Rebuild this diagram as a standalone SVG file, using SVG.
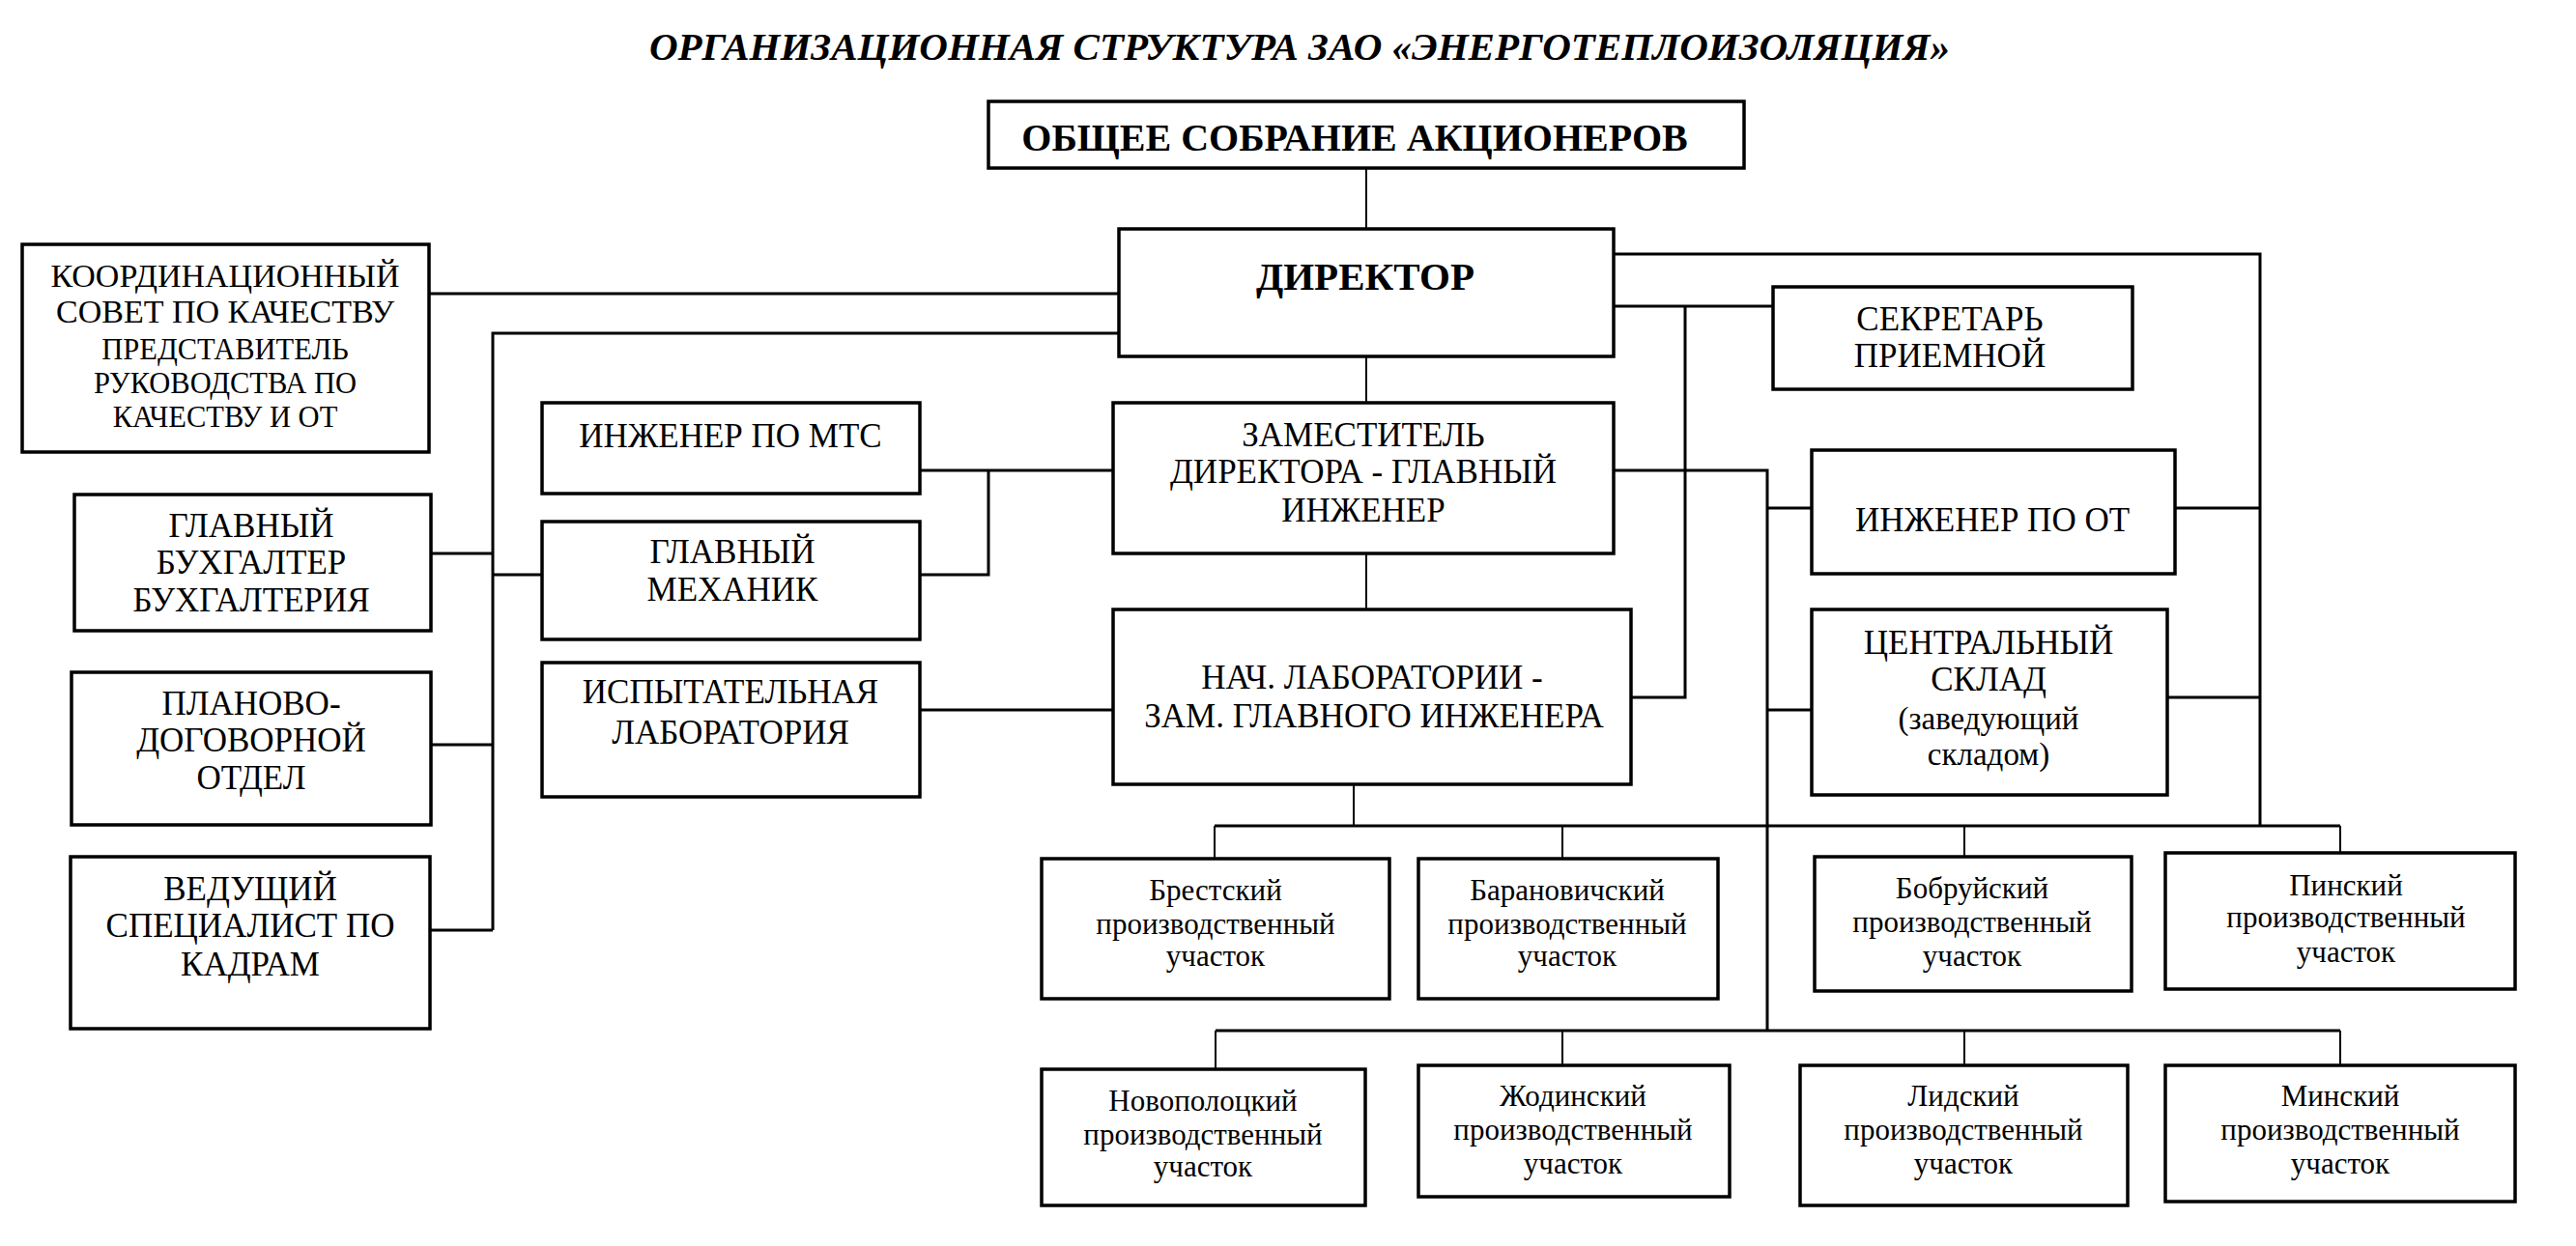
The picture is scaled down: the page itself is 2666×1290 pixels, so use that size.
<svg xmlns="http://www.w3.org/2000/svg" width="2666" height="1290" viewBox="0 0 2666 1290">
<style>
.b{fill:#fff;stroke:#000;stroke-width:3.5}
.c{fill:none;stroke:#000;stroke-width:3}
.t{fill:none;stroke:#000;stroke-width:2}
text{font-family:"Liberation Serif","Times New Roman",serif;fill:#000;text-anchor:middle}
.u{font-size:35px}
.k{font-size:34px}
.s{font-size:30.5px}
.l{font-size:31px}
.h{font-size:40px;font-weight:bold}
</style>
<rect width="2666" height="1290" fill="#fff"/>
<text x="1345" y="62" style="font-size:41px;font-weight:bold;font-style:italic">ОРГАНИЗАЦИОННАЯ СТРУКТУРА ЗАО «ЭНЕРГОТЕПЛОИЗОЛЯЦИЯ»</text>
<g id="connectors">
<path class="t" d="M1414 174V237M1414 369V417M1414 573V631"/>
<path class="c" d="M444 304H1158M1158 345H510V963M446 573H510M446 771H510M446 963H510M510 595H561"/>
<path class="c" d="M952 487H1152M1023 487V595H952M952 735H1152"/>
<path class="c" d="M1670 263H2339V855M1670 317H1835M1744 317V722H1688"/>
<path class="c" d="M1670 487H1829V1067M1829 526H1875M1829 735H1875M2251 526H2339M2243 722H2339"/>
<path class="t" d="M1401 812V855"/>
<path class="c" d="M1257 855H2422M1258 1067H2422"/>
<path class="t" d="M1257 855V889M1617 855V889M2033 855V887M2422 855V883M1258 1067V1107M1617 1067V1103M2033 1067V1103M2422 1067V1103"/>
</g>
<g id="n-sobranie"><rect class="b" x="1023" y="105" width="782" height="69"/><text class="h" x="1402" y="156">ОБЩЕЕ СОБРАНИЕ АКЦИОНЕРОВ</text></g>
<g id="n-direktor"><rect class="b" x="1158" y="237" width="512" height="132"/><text class="h" x="1413" y="300" style="font-size:41px">ДИРЕКТОР</text></g>
<g id="n-koord"><rect class="b" x="23" y="253" width="421" height="215"/>
<text class="k" x="233" y="297">КООРДИНАЦИОННЫЙ</text>
<text class="k" x="233" y="334">СОВЕТ ПО КАЧЕСТВУ</text>
<text class="s" x="233" y="372">ПРЕДСТАВИТЕЛЬ</text>
<text class="s" x="233" y="407">РУКОВОДСТВА ПО</text>
<text class="s" x="233" y="442">КАЧЕСТВУ И ОТ</text></g>
<g id="n-buh"><rect class="b" x="77" y="512" width="369" height="141"/>
<text class="u" x="260" y="556">ГЛАВНЫЙ</text><text class="u" x="260" y="594">БУХГАЛТЕР</text><text class="u" x="260" y="633">БУХГАЛТЕРИЯ</text></g>
<g id="n-plan"><rect class="b" x="74" y="696" width="372" height="158"/>
<text class="u" x="260" y="740">ПЛАНОВО-</text><text class="u" x="260" y="778">ДОГОВОРНОЙ</text><text class="u" x="260" y="817">ОТДЕЛ</text></g>
<g id="n-kadry"><rect class="b" x="73" y="887" width="372" height="178"/>
<text class="u" x="259" y="932">ВЕДУЩИЙ</text><text class="u" x="259" y="970">СПЕЦИАЛИСТ ПО</text><text class="u" x="259" y="1010">КАДРАМ</text></g>
<g id="n-mts"><rect class="b" x="561" y="417" width="391" height="94"/><text class="u" x="756" y="463">ИНЖЕНЕР ПО МТС</text></g>
<g id="n-mehanik"><rect class="b" x="561" y="540" width="391" height="122"/>
<text class="u" x="758" y="583">ГЛАВНЫЙ</text><text class="u" x="758" y="622">МЕХАНИК</text></g>
<g id="n-isp"><rect class="b" x="561" y="686" width="391" height="139"/>
<text class="u" x="756" y="728">ИСПЫТАТЕЛЬНАЯ</text><text class="u" x="756" y="770">ЛАБОРАТОРИЯ</text></g>
<g id="n-zam"><rect class="b" x="1152" y="417" width="518" height="156"/>
<text class="u" x="1411" y="462">ЗАМЕСТИТЕЛЬ</text><text class="u" x="1411" y="500">ДИРЕКТОРА - ГЛАВНЫЙ</text><text class="u" x="1411" y="540">ИНЖЕНЕР</text></g>
<g id="n-nach"><rect class="b" x="1152" y="631" width="536" height="181"/>
<text class="u" x="1420" y="713">НАЧ. ЛАБОРАТОРИИ -</text><text class="u" x="1422" y="753">ЗАМ. ГЛАВНОГО ИНЖЕНЕРА</text></g>
<g id="n-sekr"><rect class="b" x="1835" y="297" width="372" height="106"/>
<text class="u" x="2018" y="342">СЕКРЕТАРЬ</text><text class="u" x="2018" y="380">ПРИЕМНОЙ</text></g>
<g id="n-ot"><rect class="b" x="1875" y="466" width="376" height="128"/><text class="u" x="2062" y="550">ИНЖЕНЕР ПО ОТ</text></g>
<g id="n-sklad"><rect class="b" x="1875" y="631" width="368" height="192"/>
<text class="u" x="2058" y="677">ЦЕНТРАЛЬНЫЙ</text><text class="u" x="2058" y="715">СКЛАД</text>
<text x="2058" y="755" style="font-size:33px">(заведующий</text><text x="2058" y="792" style="font-size:33px">складом)</text></g>
<g id="n-brest"><rect class="b" x="1078" y="889" width="360" height="145"/>
<text class="l" x="1258" y="932">Брестский</text><text class="l" x="1258" y="967">производственный</text><text class="l" x="1258" y="1000">участок</text></g>
<g id="n-baran"><rect class="b" x="1468" y="889" width="310" height="145"/>
<text class="l" x="1622" y="932">Барановичский</text><text class="l" x="1622" y="967">производственный</text><text class="l" x="1622" y="1000">участок</text></g>
<g id="n-bobr"><rect class="b" x="1878" y="887" width="328" height="139"/>
<text class="l" x="2041" y="930">Бобруйский</text><text class="l" x="2041" y="965">производственный</text><text class="l" x="2041" y="1000">участок</text></g>
<g id="n-pinsk"><rect class="b" x="2241" y="883" width="362" height="141"/>
<text class="l" x="2428" y="927">Пинский</text><text class="l" x="2428" y="960">производственный</text><text class="l" x="2428" y="996">участок</text></g>
<g id="n-novop"><rect class="b" x="1078" y="1107" width="335" height="141"/>
<text class="l" x="1245" y="1150">Новополоцкий</text><text class="l" x="1245" y="1185">производственный</text><text class="l" x="1245" y="1218">участок</text></g>
<g id="n-zhod"><rect class="b" x="1468" y="1103" width="322" height="136"/>
<text class="l" x="1628" y="1145">Жодинский</text><text class="l" x="1628" y="1180">производственный</text><text class="l" x="1628" y="1215">участок</text></g>
<g id="n-lida"><rect class="b" x="1863" y="1103" width="339" height="145"/>
<text class="l" x="2032" y="1145">Лидский</text><text class="l" x="2032" y="1180">производственный</text><text class="l" x="2032" y="1215">участок</text></g>
<g id="n-minsk"><rect class="b" x="2241" y="1103" width="362" height="141"/>
<text class="l" x="2422" y="1145">Минский</text><text class="l" x="2422" y="1180">производственный</text><text class="l" x="2422" y="1215">участок</text></g>
</svg>
